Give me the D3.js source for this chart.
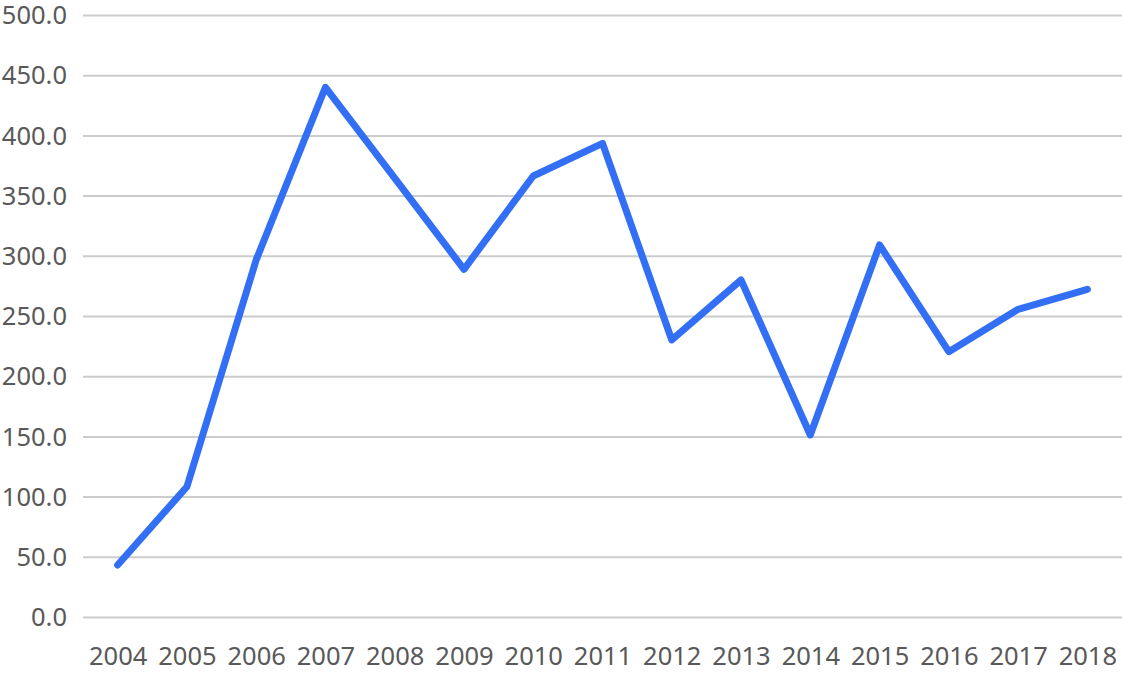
<!DOCTYPE html>
<html>
<head>
<meta charset="utf-8">
<script src="https://cdn.jsdelivr.net/npm/d3@7"></script>
<style>
  html, body { margin: 0; padding: 0; background: #fff; }
  svg { display: block; }
</style>
</head>
<body>
<div id="chart"></div>
<script>
// data
var years = ["2004", "2005", "2006", "2007", "2008", "2009", "2010", "2011",
             "2012", "2013", "2014", "2015", "2016", "2017", "2018"];
var values = [43.6, 108.6, 297, 440.4, 365, 289.2, 366.7, 393.8,
              230.5, 280.3, 151.6, 309.4, 220.8, 256, 272.6];
var yTicks = [0, 50, 100, 150, 200, 250, 300, 350, 400, 450, 500];

var width = 1122, height = 674;
var margin = { top: 15.5, right: 0, bottom: 56.5, left: 83 };

var svg = d3.select("#chart")
    .append("svg")
    .attr("width", width)
    .attr("height", height);

var x = d3.scalePoint()
    .domain(years)
    .range([margin.left, width - margin.right])
    .padding(0.5);

var y = d3.scaleLinear()
    .domain([0, 500])
    .range([height - margin.bottom, margin.top]);

// gridlines
svg.append("g")
    .selectAll("line")
    .data(yTicks)
    .enter()
    .append("line")
    .attr("x1", margin.left)
    .attr("x2", width - margin.right)
    .attr("y1", d => y(d))
    .attr("y2", d => y(d))
    .attr("stroke", "#cccccc")
    .attr("stroke-width", 2);

// y axis labels
var yAxis = svg.append("g")
    .attr("transform", "translate(" + (margin.left - 16) + ",0)")
    .call(d3.axisLeft(y).tickValues(yTicks).tickFormat(d3.format(".1f")).tickSize(0).tickPadding(0));
yAxis.select(".domain").remove();
yAxis.selectAll("text")
    .attr("fill", "#595959")
    .style("font-family", "'Noto Sans', sans-serif")
    .style("font-size", "25.5px");

// x axis labels
var xAxis = svg.append("g")
    .attr("transform", "translate(0," + (height - margin.bottom) + ")")
    .call(d3.axisBottom(x).tickSize(0).tickPadding(29));
xAxis.select(".domain").remove();
xAxis.selectAll("text")
    .attr("fill", "#595959")
    .style("font-family", "'Noto Sans', sans-serif")
    .style("font-size", "25.5px");

// line
var line = d3.line()
    .x((d, i) => x(years[i]))
    .y(d => y(d));

svg.append("path")
    .datum(values)
    .attr("d", line)
    .attr("fill", "none")
    .attr("stroke", "#336ff5")
    .attr("stroke-width", 7)
    .attr("stroke-linejoin", "round")
    .attr("stroke-linecap", "round");
</script>
</body>
</html>
